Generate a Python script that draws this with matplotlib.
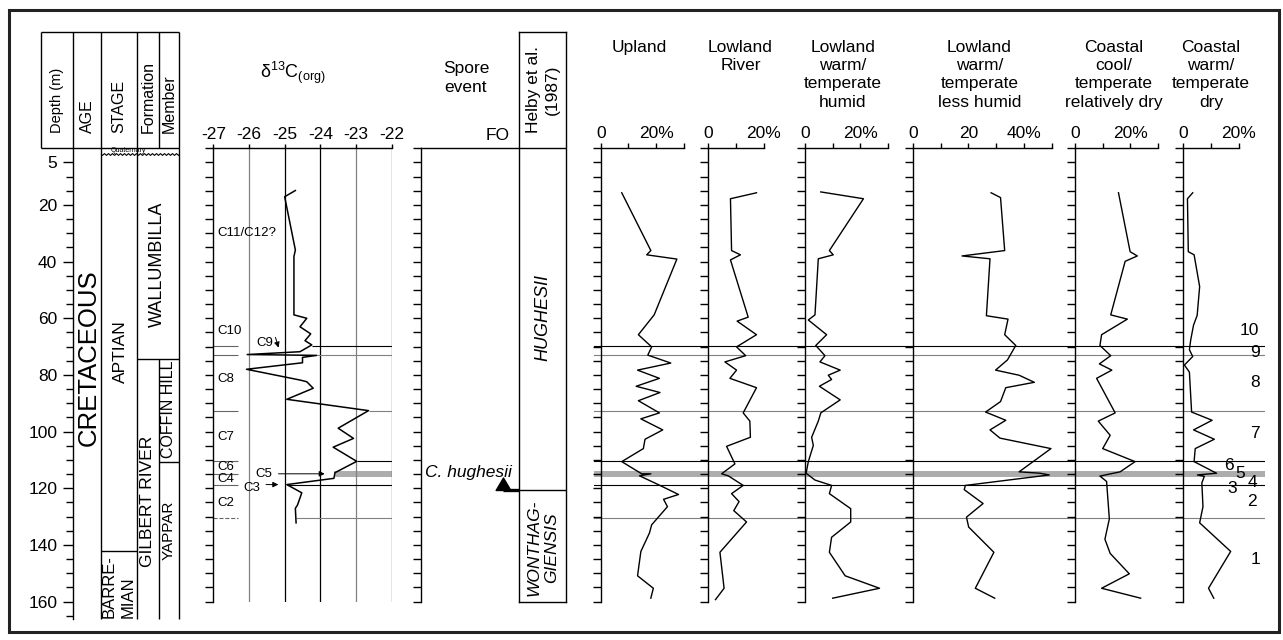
import numpy as np
import matplotlib
matplotlib.use("Agg")
import matplotlib.pyplot as plt
from matplotlib.path import Path
from matplotlib.patches import Rectangle

plt.rcParams["font.family"] = ["Liberation Sans", "DejaVu Sans"]
plt.rcParams["mathtext.fontset"] = "custom"
plt.rcParams["mathtext.rm"] = "Liberation Sans"
plt.rcParams["mathtext.it"] = "Liberation Sans:italic"

# ---------------- data ----------------
# carbon isotope curve
c13_depth = [14.9, 17.1, 35.9, 38.2, 58.8, 60.0, 63.0, 65.5, 67.9, 69.4, 71.8,
             72.8, 73.1, 73.8, 75.7, 78.0, 81.8, 82.4, 84.7, 88.6, 92.6, 98.8,
             102.4, 105.5, 110.5, 114.5, 116.5, 118.7, 121.6, 125.9, 127.1, 132.2]
c13_value = [-24.70, -25.00, -24.70, -24.74, -24.74, -24.38, -24.57, -24.27,
             -24.43, -24.24, -24.57, -26.05, -24.10, -24.50, -24.50, -26.07,
             -24.57, -24.38, -24.20, -24.94, -22.65, -23.50, -23.07, -23.64,
             -22.98, -23.59, -23.62, -24.94, -24.52, -24.64, -24.70, -24.68]

# chemostratigraphic boundaries (m) and where their line starts on the d13C plot
zone_depth = [69.7, 72.9, 92.6, 110.5, 119.0, 130.5]
zone_c13_start = [-24.24, -24.10, -22.65, -22.98, -24.94, -24.68]
zone_colour = ["k", "0.5", "0.5", "k", "k", "0.5"]
band_top, band_base = 113.9, 115.9
band_c13_start = -23.62

czone_labels = ["C11/C12?", "C10", "C8", "C7", "C6", "C4", "C2"]
czone_label_depth = [30.0, 64.4, 81.4, 101.8, 112.4, 116.8, 125.3]
czone_line_depth = [69.7, 72.9, 92.6, 110.5, 114.9, 119.0]
czone_dashed_depth = 130.5

zone_numbers = ["10", "9", "8", "7", "6", "5", "4", "3", "2", "1"]
zone_number_depth = [64.3, 72.0, 82.5, 100.5, 112.1, 114.7, 118.1, 120.0, 124.8, 145.0]

# spore event / biozones
fo_depth = 120.7
helby_zone_base = 120.7

# lithostratigraphy (m)
aptian_base = 142.0
wallumbilla_base = 74.2
coffin_hill_base = 110.6

# palynofloral groups (depth m, percent)
upland_depth = [15.7, 36.1, 37.6, 39.1, 58.8, 65.8, 70.1, 73.0, 75.8, 78.3, 81.2,
                84.0, 86.2, 89.1, 93.4, 95.5, 99.4, 102.7, 106.0, 110.6, 114.9,
                114.9, 115.6, 119.0, 122.2, 123.9, 126.5, 132.9, 135.8, 142.3,
                150.9, 155.3, 158.8]
upland_value = [7.6, 18.1, 16.6, 27.5, 19.3, 13.6, 18.4, 17.0, 25.3, 13.3, 21.2,
                12.8, 21.4, 13.6, 21.2, 14.5, 22.4, 16.0, 15.4, 7.6, 14.8, 18.1,
                14.0, 21.4, 28.1, 22.7, 24.1, 18.4, 17.6, 14.5, 13.3, 19.0, 18.1]

river_depth = [15.7, 17.8, 36.1, 37.6, 39.4, 59.6, 61.0, 65.8, 70.1, 73.2, 75.4,
               78.3, 81.2, 84.5, 93.4, 96.3, 102.0, 105.2, 111.4, 114.9, 115.6,
               119.0, 121.9, 124.7, 127.9, 131.9, 142.6, 155.3, 159.3]
river_value = [17.4, 8.0, 8.4, 11.6, 8.0, 14.4, 10.4, 17.4, 10.2, 13.5, 6.0,
               10.2, 7.8, 17.4, 12.6, 15.0, 15.2, 6.6, 9.6, 4.8, 7.2, 12.6, 8.4,
               11.1, 9.2, 13.8, 4.2, 5.7, 2.6]

humid_depth = [15.4, 17.8, 36.1, 37.6, 39.0, 58.8, 60.6, 65.8, 69.6, 73.2, 75.4,
               78.3, 80.1, 81.6, 84.0, 88.8, 93.4, 96.3, 102.0, 104.9, 110.6,
               114.7, 117.1, 119.0, 121.9, 127.2, 131.9, 137.3, 142.6, 150.9,
               155.3, 158.8]
humid_value = [5.7, 21.1, 8.8, 10.2, 4.8, 3.6, 1.2, 7.8, 3.9, 7.2, 5.4, 12.7,
               8.4, 9.6, 5.2, 12.7, 5.7, 4.8, 2.4, 3.0, 1.2, 0.4, 3.6, 9.6, 8.8,
               16.5, 16.5, 9.6, 8.8, 14.5, 26.9, 10.0]

lesshumid_depth = [15.7, 17.4, 36.1, 38.0, 39.0, 59.1, 60.3, 65.8, 69.6, 74.7,
                   78.3, 80.1, 82.6, 84.5, 89.4, 93.1, 96.0, 99.4, 102.3, 106.0,
                   114.2, 114.7, 115.3, 119.0, 120.5, 125.4, 130.2, 133.7, 142.6,
                   155.3, 158.8]
lesshumid_value = [28.2, 31.6, 33.1, 17.7, 27.8, 26.5, 34.3, 33.1, 37.1, 34.1,
                   29.8, 38.3, 43.8, 33.5, 31.6, 26.2, 33.5, 27.8, 31.4, 49.8,
                   38.3, 45.9, 49.2, 18.9, 18.5, 25.3, 19.3, 20.1, 29.2, 22.5, 29.5]

coolcoast_depth = [15.7, 36.5, 38.0, 39.9, 58.8, 60.3, 65.8, 69.6, 73.2, 76.1,
                   78.3, 81.2, 93.4, 96.3, 101.3, 106.0, 110.6, 114.2, 115.7,
                   117.6, 130.8, 138.0, 143.0, 150.2, 155.3, 158.8]
coolcoast_value = [15.7, 19.9, 22.5, 18.1, 12.9, 18.9, 9.6, 9.0, 12.9, 8.8,
                   13.3, 7.8, 14.5, 8.4, 12.7, 10.0, 21.7, 16.3, 9.0, 11.4, 12.4,
                   10.8, 12.7, 19.6, 9.6, 23.7]

warmcoast_depth = [15.7, 17.8, 36.5, 37.6, 48.8, 59.0, 62.4, 67.5, 71.1, 73.5,
                   76.5, 79.0, 93.1, 96.0, 99.4, 102.7, 106.0, 110.6, 114.7,
                   115.3, 115.8, 118.1, 126.5, 132.2, 142.3, 155.3, 158.8]
warmcoast_value = [3.4, 1.5, 1.8, 3.9, 5.9, 5.0, 3.7, 2.7, 2.2, 3.4, 0.4, 2.2,
                   3.0, 10.4, 3.7, 11.2, 4.3, 3.9, 12.0, 5.1, 7.6, 6.7, 7.1, 5.9,
                   17.1, 9.1, 11.0]

# ---------------- layout (pixels) ----------------
W, H = 1283, 640
Y0, PXM = 148.3, 2.833      # y pixel of 0 m, pixels per metre
PCT = 2.77                  # pixels per percent on the pollen panels
FS = 12.5

fig = plt.figure(figsize=(W / 100, H / 100), dpi=100)


def add_ax(x0, y0, x1, y1, z=1):
    ax = fig.add_axes([x0 / W, 1 - y1 / H, (x1 - x0) / W, (y1 - y0) / H])
    ax.patch.set_alpha(0)
    ax.set_zorder(z)
    return ax


def dpx(d):
    return Y0 + PXM * d


def depth_ticks(ax):
    ax.set_yticks(np.arange(0, 161, 5))
    ax.set_yticklabels([])
    ax.tick_params(axis="y", direction="out", length=5.5, width=1)
    for s in ["right", "bottom"]:
        ax.spines[s].set_visible(False)
    for s in ["left", "top"]:
        ax.spines[s].set_linewidth(1)


# outer frame
fig.add_artist(Rectangle((9 / W, 1 - 632 / H), 1270 / W, 622 / H,
                         transform=fig.transFigure, fill=False, lw=2.2, ec="#222"))

# ---------------- stratigraphic columns ----------------
top_d = (31.7 - Y0) / PXM
bot_d = (619 - Y0) / PXM
cols = [40.7, 73.3, 101, 137.3, 158.7, 179]
sx = add_ax(cols[0], 31.7, cols[-1], 619)
sx.set_xlim(cols[0], cols[-1])
sx.set_ylim(bot_d, top_d)
for s in ["right", "bottom", "top"]:
    sx.spines[s].set_visible(False)
sx.spines["left"].set_position(("data", cols[1]))
sx.spines["left"].set_bounds(0, bot_d)
sx.spines["left"].set_linewidth(1)
sx.set_xticks([])
major = [5] + list(range(20, 161, 20))
sx.set_yticks(major)
sx.set_yticklabels([str(v) for v in major], fontsize=FS)
sx.set_yticks([v for v in range(5, 166, 5) if v not in major], minor=True)
sx.tick_params(axis="y", which="major", length=7.5, width=1, pad=4)
sx.tick_params(axis="y", which="minor", length=5, width=1)

lk = dict(color="k", lw=1, clip_on=False)
sx.vlines(cols, top_d, 0, **lk)
sx.hlines([top_d, 0], cols[0], cols[-1], **lk)
sx.vlines([cols[2], cols[3], cols[5]], 0, bot_d, **lk)
sx.vlines(cols[4], wallumbilla_base, bot_d, **lk)
sx.hlines(aptian_base, cols[2], cols[3], **lk)
sx.hlines(wallumbilla_base, cols[3], cols[5], **lk)
sx.hlines(coffin_hill_base, cols[4], cols[5], **lk)
wave, = sx.plot([cols[2], cols[5]], [2.1, 2.1], color="k", lw=0.8)
wave.set_sketch_params(scale=0.9, length=4, randomness=1)
sx.text(128, 0.95, "Quaternary", fontsize=5, ha="center", va="center")

hd = (133 - Y0) / PXM
for xc, lab, fs in [(56.5, "Depth (m)", 10.5), (87, "AGE", 11.5), (119, "STAGE", 11.5),
                    (148, "Formation", 11.5), (169, "Member", 11.5)]:
    sx.text(xc, hd, lab, rotation=90, ha="center", va="bottom", fontsize=fs)

sx.text(89, 73.9, "CRETACEOUS", rotation=90, ha="center", va="center", fontsize=18.5)
sx.text(120.5, 71.7, "APTIAN", rotation=90, ha="center", va="center", fontsize=12.5)
sx.text(119, 165.8, "BARRE-\nMIAN", rotation=90, ha="center", va="bottom",
        fontsize=12, multialignment="left", linespacing=1.35)
sx.text(157.5, 41, "WALLUMBILLA", rotation=90, ha="center", va="center", fontsize=13)
sx.text(148, 124.8, "GILBERT RIVER", rotation=90, ha="center", va="center", fontsize=12.5)
sx.text(168.8, 92, "COFFIN HILL", rotation=90, ha="center", va="center", fontsize=11.5)
sx.text(168.8, 135, "YAPPAR", rotation=90, ha="center", va="center", fontsize=11)

# ---------------- d13C ----------------
cx = add_ax(213.3, dpx(0), 391.7, dpx(160), z=2)
cx.set_xlim(-27, -22)
cx.set_ylim(160, 0)
depth_ticks(cx)
cx.xaxis.tick_top()
cx.set_xticks(range(-27, -21))
cx.set_xticklabels([str(v) for v in range(-27, -21)], fontsize=FS)
cx.tick_params(axis="x", direction="out", length=3, width=1, pad=1.5)
grid_col = ["0.5", "k", "k", "0.5", "0.2"]
for v, c in zip(range(-26, -21), grid_col):
    cx.axvline(v, color=c, lw=0.9)
cx.fill_betweenx([band_top, band_base], band_c13_start, -22, color="0.68", lw=0)
for d, x0, c in zip(zone_depth, zone_c13_start, zone_colour):
    cx.hlines(d, x0, -22, color=c, lw=0.8)
cx.hlines(czone_line_depth, -27, -26.3, color="0.4", lw=0.8)
cx.hlines(czone_dashed_depth, -27, -26.3, color="0.4", lw=0.8, linestyles="--")
cx.plot(c13_value, c13_depth, color="k", lw=1.1)
for lab, d in zip(czone_labels, czone_label_depth):
    cx.text(-26.88, d, lab, fontsize=9.5, ha="left", va="center")
ak = dict(arrowstyle="-|>", color="k", lw=0.7, mutation_scale=8)
cx.text(-25.55, 68.6, "C9", fontsize=9.5, ha="center", va="center")
cx.annotate("", xy=(-25.15, 71.3), xytext=(-25.28, 65.8), arrowprops=ak)
cx.text(-25.58, 115.1, "C5", fontsize=9.5, ha="center", va="center")
cx.annotate("", xy=(-23.8, 114.9), xytext=(-25.25, 114.9), arrowprops=ak)
cx.text(-25.93, 119.8, "C3", fontsize=9.5, ha="center", va="center")
cx.annotate("", xy=(-25.1, 118.7), xytext=(-25.6, 118.7), arrowprops=ak)
fig.text(292.5 / W, 1 - 73 / H, r"$\mathrm{\delta}^{13}\mathrm{C}_{\mathrm{(org)}}$",
         ha="center", va="center", fontsize=13)

# ---------------- spore event ----------------
px = add_ax(420.7, dpx(0), 519.3, dpx(160))
px.set_xlim(0, 1)
px.set_ylim(160, 0)
depth_ticks(px)
px.set_xticks([])
px.text(0.044, 114.5, "C. hughesii", style="italic", fontsize=FS, ha="left", va="center")
tri = Path([(-1, 0), (1, 0), (0, 1.7), (-1, 0)], [1, 2, 2, 79])
px.plot([0.832, 1.0], [fo_depth, fo_depth], color="k", lw=2.4, solid_capstyle="butt")
px.plot([0.832], [fo_depth], marker=tri, ms=18, color="k", clip_on=False)
fig.text(466 / W, 1 - 78 / H, "Spore\nevent", ha="center", va="center",
         fontsize=FS, linespacing=1.25)
fig.text(510 / W, 1 - 135 / H, "FO", ha="right", va="center", fontsize=FS)

# Helby et al. zones
hx = add_ax(519.3, 31.7, 566, dpx(160))
hx.set_xlim(0, 1)
hx.set_ylim(160, top_d)
hx.set_xticks([])
hx.set_yticks([])
for s in hx.spines.values():
    s.set_linewidth(1)
hx.axhline(0, color="k", lw=1)
hx.axhline(helby_zone_base, color="k", lw=1)
hx.text(0.5, -20.6, "Helby et al.\n(1987)", rotation=90, ha="center", va="center",
        fontsize=FS, linespacing=1.3)
hx.text(0.5, 59.8, "HUGHESII", rotation=90, style="italic", ha="center",
        va="center", fontsize=13)
hx.text(0.5, 141, "WONTHAG-\nGIENSIS", rotation=90, style="italic", ha="center",
        va="center", fontsize=12.5, linespacing=1.25)

# ---------------- zone overlay on pollen panels ----------------
ox = add_ax(594, dpx(0), 1265, dpx(160), z=0)
ox.set_xlim(594, 1265)
ox.set_ylim(160, 0)
ox.axis("off")
for d, c in zip(zone_depth, zone_colour):
    ox.axhline(d, color=c, lw=0.8)
ox.axhspan(band_top, band_base, color="0.68", lw=0)
num_x = [1249, 1255, 1255, 1255, 1229, 1240, 1252, 1232, 1252, 1255]
for lab, d, x in zip(zone_numbers, zone_number_depth, num_x):
    ox.text(x, d, lab, fontsize=FS, ha="center", va="center", clip_on=False)

# ---------------- pollen panels ----------------
panels = [
    ("Upland", 600.7, 30, ["0", "", "20%", ""], 639.5, upland_depth, upland_value),
    ("Lowland\nRiver", 708.3, 20, ["0", "", "20%"], 740.5, river_depth, river_value),
    ("Lowland\nwarm/\ntemperate\nhumid", 805, 30, ["0", "", "20%", ""], 843,
     humid_depth, humid_value),
    ("Lowland\nwarm/\ntemperate\nless humid", 913, 50, ["0", "", "20", "", "40%", ""],
     979.5, lesshumid_depth, lesshumid_value),
    ("Coastal\ncool/\ntemperate\nrelatively dry", 1075, 30, ["0", "", "20%", ""], 1114,
     coolcoast_depth, coolcoast_value),
    ("Coastal\nwarm/\ntemperate\ndry", 1183.3, 20, ["0", "", "20%"], 1211,
     warmcoast_depth, warmcoast_value),
]
for title, x0, xmax, labels, tx, dep, val in panels:
    ax = add_ax(x0, dpx(0), x0 + xmax * PCT, dpx(160), z=2)
    ax.set_xlim(0, xmax)
    ax.set_ylim(160, 0)
    depth_ticks(ax)
    ax.xaxis.tick_top()
    ax.set_xticks(np.arange(0, xmax + 1, 10))
    ax.set_xticklabels(labels, fontsize=FS)
    ax.tick_params(axis="x", direction="out", length=3.5, width=1, pad=1.5)
    ax.plot(val, dep, color="k", lw=1.0)
    fig.text(tx / W, 1 - 40 / H, title, ha="center", va="top", fontsize=FS,
             linespacing=1.27)

fig.savefig("out.png", dpi=100)
